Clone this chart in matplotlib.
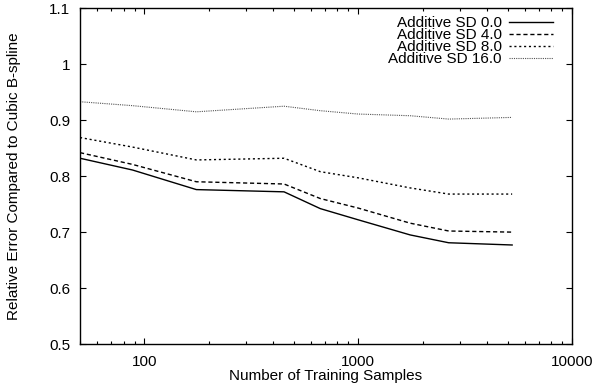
import numpy as np
import matplotlib
matplotlib.use('Agg')
import matplotlib.pyplot as plt
from matplotlib.ticker import FixedLocator, FuncFormatter, LogLocator, NullFormatter

# training sample counts
samples = [50, 88, 175, 450, 665, 1000, 1750, 2650, 5250]

# relative error for each noise level
sd_0 = [0.832, 0.811, 0.776, 0.772, 0.742, 0.722, 0.695, 0.681, 0.677]
sd_4 = [0.842, 0.821, 0.790, 0.786, 0.760, 0.743, 0.716, 0.702, 0.700]
sd_8 = [0.869, 0.852, 0.829, 0.832, 0.808, 0.797, 0.779, 0.768, 0.768]
sd_16 = [0.933, 0.926, 0.915, 0.925, 0.917, 0.911, 0.908, 0.902, 0.905]

labels = ["Additive SD 0.0", "Additive SD 4.0", "Additive SD 8.0", "Additive SD 16.0"]
y_ticks = [0.5, 0.6, 0.7, 0.8, 0.9, 1.0, 1.1]
x_ticks = [100, 1000, 10000]

plt.rcParams['font.family'] = ['Liberation Sans', 'DejaVu Sans']
plt.rcParams['font.size'] = 11

fig = plt.figure(figsize=(5.95, 3.87), dpi=100)
ax = fig.add_axes([0.1345, 0.111, 0.8268, 0.8676])

ax.plot(samples, sd_0, color='black', lw=1.0, ls='-', label=labels[0])
ax.plot(samples, sd_4, color='black', lw=1.0, ls=(0, (3, 2)), label=labels[1])
ax.plot(samples, sd_8, color='black', lw=1.0, ls=(0, (1.5, 2)), label=labels[2])
ax.plot(samples, sd_16, color='#555555', lw=0.8, ls=(0, (1, 1)), label=labels[3])

ax.set_xscale('log')
ax.set_xlim(50, 10000)
ax.set_ylim(0.5, 1.1)

ax.xaxis.set_major_locator(FixedLocator(x_ticks))
ax.xaxis.set_major_formatter(FuncFormatter(lambda v, p: "%d" % v))
ax.xaxis.set_minor_locator(LogLocator(base=10, subs=np.arange(2, 10)))
ax.xaxis.set_minor_formatter(NullFormatter())
ax.yaxis.set_major_locator(FixedLocator(y_ticks))
ax.yaxis.set_major_formatter(FuncFormatter(lambda v, p: "%g" % v))

ax.tick_params(which='both', direction='in', top=True, right=True, width=0.8)
ax.tick_params(which='major', length=4.5)
ax.tick_params(axis='x', which='major', pad=8)
ax.tick_params(axis='y', which='major', pad=7)
ax.tick_params(which='minor', length=2.5)
for s in ax.spines.values():
    s.set_linewidth(1.0)

ax.set_xlabel("Number of Training Samples", labelpad=0)
ax.set_ylabel("Relative Error Compared to Cubic B-spline", labelpad=20)

ax.legend(loc='upper right', bbox_to_anchor=(0.9675, 0.9857), borderaxespad=0,
          frameon=False, markerfirst=False,
          handlelength=2.9, handletextpad=0.45, labelspacing=-0.13,
          borderpad=0.2)

fig.savefig('out.png', dpi=100)
